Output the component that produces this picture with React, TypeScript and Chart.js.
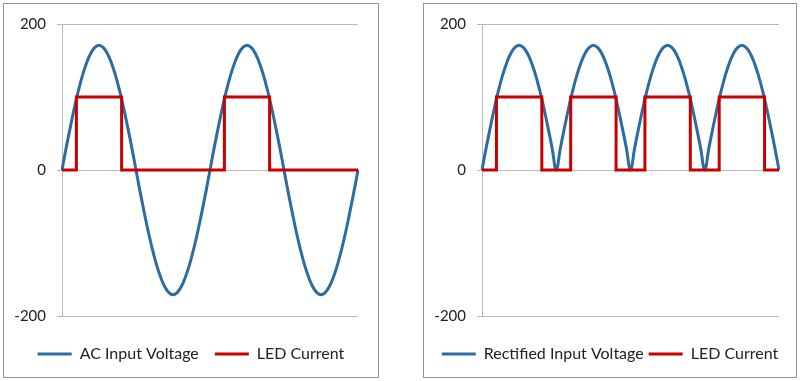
import React, { useEffect, useRef } from "react";
import { Chart, registerables } from "chart.js";

Chart.register(...registerables);

// Phase angle of each sample (degrees) – category positions
const phaseDeg = [
  0, 10, 20, 30, 40, 50, 60, 70, 80, 90, 100, 110, 120, 130, 140, 150, 160, 170,
  180, 190, 200, 210, 220, 230, 240, 250, 260, 270, 280, 290, 300, 310, 320, 330, 340, 350,
  360, 370, 380, 390, 400, 410, 420, 430, 440, 450, 460, 470, 480, 490, 500, 510, 520, 530,
  540, 550, 560, 570, 580, 590, 600, 610, 620, 630, 640, 650, 660, 670, 680, 690, 700, 710,
  720,
];

const acInputVoltage = [
  0, 30, 58, 85, 109, 130, 147, 160, 168, 171, 168, 160, 147, 130, 109, 85, 58, 30,
  0, -30, -58, -85, -109, -130, -147, -160, -168, -171, -168, -160, -147, -130, -109, -85, -58, -30,
  0, 30, 58, 85, 109, 130, 147, 160, 168, 171, 168, 160, 147, 130, 109, 85, 58, 30,
  0, -30, -58, -85, -109, -130, -147, -160, -168, -171, -168, -160, -147, -130, -109, -85, -58, -30,
  0,
];

const acLedCurrent = [
  0, 0, 0, 0, 100, 100, 100, 100, 100, 100, 100, 100, 100, 100, 100, 0, 0, 0,
  0, 0, 0, 0, 0, 0, 0, 0, 0, 0, 0, 0, 0, 0, 0, 0, 0, 0,
  0, 0, 0, 0, 100, 100, 100, 100, 100, 100, 100, 100, 100, 100, 100, 0, 0, 0,
  0, 0, 0, 0, 0, 0, 0, 0, 0, 0, 0, 0, 0, 0, 0, 0, 0, 0,
  0,
];

const rectifiedInputVoltage = [
  0, 30, 58, 85, 109, 130, 147, 160, 168, 171, 168, 160, 147, 130, 109, 85, 58, 30,
  0, 30, 58, 85, 109, 130, 147, 160, 168, 171, 168, 160, 147, 130, 109, 85, 58, 30,
  0, 30, 58, 85, 109, 130, 147, 160, 168, 171, 168, 160, 147, 130, 109, 85, 58, 30,
  0, 30, 58, 85, 109, 130, 147, 160, 168, 171, 168, 160, 147, 130, 109, 85, 58, 30,
  0,
];

const rectifiedLedCurrent = [
  0, 0, 0, 0, 100, 100, 100, 100, 100, 100, 100, 100, 100, 100, 100, 0, 0, 0,
  0, 0, 0, 0, 100, 100, 100, 100, 100, 100, 100, 100, 100, 100, 100, 0, 0, 0,
  0, 0, 0, 0, 100, 100, 100, 100, 100, 100, 100, 100, 100, 100, 100, 0, 0, 0,
  0, 0, 0, 0, 100, 100, 100, 100, 100, 100, 100, 100, 100, 100, 100, 0, 0, 0,
  0,
];

const yMin = -200;
const yMax = 200;
const yStep = 200;

const BLUE = "#2E6CA0";
const RED = "#C80000";
const GRID = "#B8B8B8";
const FONT = "Lato, 'Open Sans', sans-serif";

type PanelProps = {
  left: number;
  width: number;
  voltage: number[];
  current: number[];
  voltageLabel: string;
  legendGap: number;
  padRight: number;
  xHeight: number;
  padBottom: number;
};

function Panel(props: PanelProps) {
  const ref = useRef<HTMLCanvasElement | null>(null);
  const { left, width, voltage, current, voltageLabel, legendGap, padRight, xHeight, padBottom } = props;
  const height = 373;

  useEffect(() => {
    if (!ref.current) return;
    const chart = new Chart(ref.current, {
      type: "line",
      data: {
        labels: phaseDeg,
        datasets: [
          {
            label: voltageLabel,
            data: voltage,
            borderColor: BLUE,
            backgroundColor: BLUE,
            borderWidth: 3,
            pointRadius: 0,
            tension: 0.4,
            order: 1,
          },
          {
            label: "LED Current",
            data: current,
            borderColor: RED,
            backgroundColor: RED,
            borderWidth: 3,
            pointRadius: 0,
            stepped: "middle",
            order: 0,
          },
        ],
      },
      options: {
        responsive: false,
        animation: false,
        layout: { padding: { left: 0, right: 0, top: 19, bottom: padBottom } },
        scales: {
          x: {
            type: "category",
            display: true,
            grid: { display: false },
            border: { display: false },
            ticks: { display: false },
            afterFit: (s: any) => {
              s.height = xHeight;
            },
          },
          y: {
            min: yMin,
            max: yMax,
            ticks: {
              stepSize: yStep,
              padding: 11,
              color: "#222",
              font: { family: FONT, size: 15 },
            },
            grid: { color: GRID, lineWidth: 1, tickLength: 5, drawTicks: true },
            border: { display: true, color: GRID, width: 1 },
            afterFit: (s: any) => {
              s.width = 58;
            },
          },
          yRightSpace: {
            type: "linear",
            position: "right",
            display: true,
            grid: { display: false },
            border: { display: false },
            ticks: { display: false },
            afterFit: (s: any) => {
              s.width = padRight;
            },
          },
        },
        plugins: {
          tooltip: { enabled: false },
          legend: {
            position: "bottom",
            labels: {
              usePointStyle: true,
              pointStyle: "line",
              pointStyleWidth: 34,
              padding: legendGap,
              color: "#222",
              font: { family: FONT, size: 16 },
              sort: (a: any, b: any) => a.datasetIndex - b.datasetIndex,
            },
          },
        },
      },
    } as any);
    return () => chart.destroy();
  }, []);

  return (
    <div
      style={{
        position: "absolute",
        left,
        top: 3,
        width,
        height,
        border: "1px solid #959595",
        background: "#fff",
      }}
    >
      <canvas ref={ref} width={width} height={height} style={{ display: "block" }} />
    </div>
  );
}

export default function App() {
  return (
    <div
      style={{
        position: "fixed",
        left: 0,
        top: 0,
        width: 800,
        height: 381,
        background: "#fff",
      }}
    >
      <Panel
        left={3}
        width={374}
        voltage={acInputVoltage}
        current={acLedCurrent}
        voltageLabel="AC Input Voltage"
        legendGap={16}
        padRight={20}
        xHeight={14}
        padBottom={5}
      />
      <Panel
        left={423}
        width={372}
        voltage={rectifiedInputVoltage}
        current={rectifiedLedCurrent}
        voltageLabel="Rectified Input Voltage"
        legendGap={5}
        padRight={17}
        xHeight={25}
        padBottom={5}
      />
    </div>
  );
}
